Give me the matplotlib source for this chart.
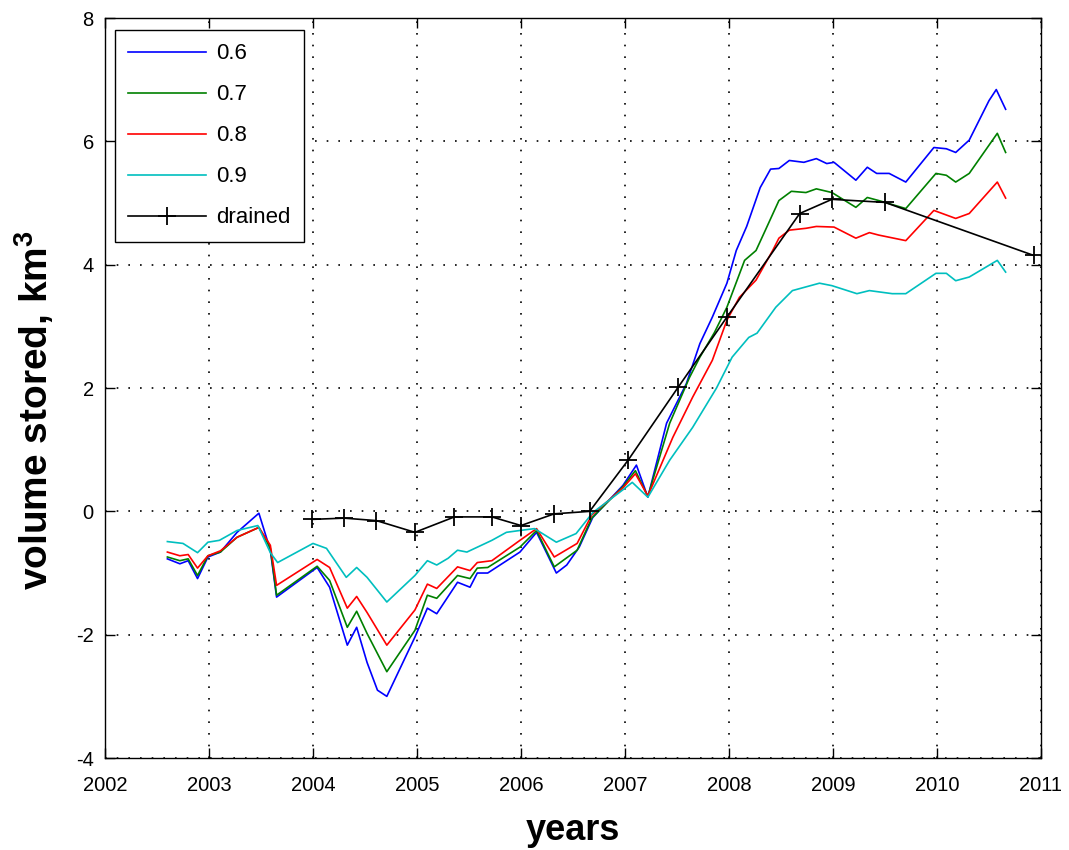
import matplotlib
matplotlib.use("Agg")
import matplotlib.pyplot as plt

plt.rcParams['font.family'] = ['Liberation Sans', 'DejaVu Sans']
plt.rcParams['mathtext.fontset'] = 'custom'
plt.rcParams['mathtext.rm'] = 'Liberation Sans'
plt.rcParams['mathtext.bf'] = 'Liberation Sans:bold'
plt.rcParams['axes.unicode_minus'] = False

# Stored volume (km^3) for several fill fractions, by decimal year
t06 = [2002.60, 2002.72, 2002.80, 2002.89, 2002.99, 2003.11, 2003.27, 2003.48, 2003.59, 2003.65,
       2004.04, 2004.16, 2004.33, 2004.42, 2004.52, 2004.62, 2004.71, 2004.98, 2005.10, 2005.19,
       2005.39, 2005.51, 2005.58, 2005.68, 2005.99, 2006.15, 2006.34, 2006.44, 2006.56, 2006.69,
       2006.98, 2007.11, 2007.22, 2007.40, 2007.59, 2007.72, 2007.84, 2007.98, 2008.07, 2008.17,
       2008.30, 2008.40, 2008.48, 2008.58, 2008.72, 2008.84, 2008.94, 2009.01, 2009.22, 2009.33,
       2009.42, 2009.54, 2009.70, 2009.97, 2010.09, 2010.18, 2010.31, 2010.50, 2010.57, 2010.66]
v06 = [-0.77, -0.85, -0.80, -1.09, -0.74, -0.66, -0.34, -0.03, -0.63, -1.39,
       -0.91, -1.23, -2.17, -1.88, -2.45, -2.90, -3.00, -2.04, -1.57, -1.66,
       -1.15, -1.23, -1.00, -1.00, -0.66, -0.34, -1.00, -0.87, -0.58, -0.10,
       0.42, 0.75, 0.23, 1.43, 2.07, 2.72, 3.15, 3.70, 4.23, 4.62,
       5.25, 5.55, 5.56, 5.69, 5.66, 5.72, 5.64, 5.66, 5.37, 5.58,
       5.48, 5.48, 5.34, 5.90, 5.88, 5.82, 6.02, 6.66, 6.84, 6.52]

t07 = [2002.60, 2002.72, 2002.80, 2002.89, 2002.99, 2003.11, 2003.27, 2003.48, 2003.59, 2003.65,
       2004.04, 2004.16, 2004.33, 2004.42, 2004.52, 2004.71, 2004.98, 2005.10, 2005.19, 2005.39,
       2005.51, 2005.58, 2005.68, 2005.99, 2006.15, 2006.32, 2006.54, 2006.68, 2006.98, 2007.10,
       2007.22, 2007.43, 2007.62, 2007.72, 2007.86, 2007.98, 2008.15, 2008.26, 2008.35, 2008.48,
       2008.60, 2008.74, 2008.84, 2008.99, 2009.22, 2009.33, 2009.44, 2009.70, 2009.99, 2010.09,
       2010.18, 2010.31, 2010.58, 2010.66]
v07 = [-0.74, -0.80, -0.77, -1.04, -0.72, -0.66, -0.42, -0.26, -0.60, -1.36,
       -0.89, -1.12, -1.88, -1.62, -1.98, -2.60, -1.93, -1.36, -1.41, -1.04,
       -1.09, -0.92, -0.91, -0.58, -0.31, -0.90, -0.63, -0.11, 0.40, 0.66,
       0.24, 1.43, 2.17, 2.50, 2.90, 3.31, 4.07, 4.23, 4.56, 5.04,
       5.19, 5.17, 5.23, 5.17, 4.93, 5.09, 5.04, 4.91, 5.48, 5.45,
       5.34, 5.48, 6.13, 5.82]

t08 = [2002.60, 2002.72, 2002.80, 2002.89, 2002.99, 2003.11, 2003.27, 2003.48, 2003.59, 2003.65,
       2004.04, 2004.16, 2004.33, 2004.42, 2004.52, 2004.71, 2004.98, 2005.10, 2005.19, 2005.39,
       2005.51, 2005.58, 2005.72, 2005.99, 2006.15, 2006.32, 2006.54, 2006.68, 2006.98, 2007.10,
       2007.22, 2007.46, 2007.65, 2007.84, 2007.98, 2008.10, 2008.26, 2008.42, 2008.48, 2008.58,
       2008.74, 2008.84, 2009.01, 2009.22, 2009.35, 2009.44, 2009.70, 2009.97, 2010.18, 2010.31,
       2010.58, 2010.66]
v08 = [-0.66, -0.72, -0.70, -0.92, -0.72, -0.64, -0.42, -0.26, -0.55, -1.20,
       -0.78, -0.91, -1.57, -1.38, -1.64, -2.17, -1.60, -1.18, -1.25, -0.90,
       -0.96, -0.83, -0.80, -0.47, -0.28, -0.74, -0.52, -0.06, 0.38, 0.61,
       0.25, 1.20, 1.85, 2.45, 3.10, 3.47, 3.75, 4.23, 4.43, 4.56,
       4.59, 4.62, 4.61, 4.43, 4.52, 4.48, 4.39, 4.88, 4.75, 4.83,
       5.34, 5.08]

t09 = [2002.60, 2002.75, 2002.89, 2002.99, 2003.10, 2003.27, 2003.47, 2003.59, 2003.66, 2004.00,
       2004.13, 2004.32, 2004.42, 2004.52, 2004.71, 2004.98, 2005.10, 2005.19, 2005.30, 2005.39,
       2005.48, 2005.72, 2005.86, 2005.99, 2006.13, 2006.34, 2006.53, 2006.69, 2006.98, 2007.07,
       2007.22, 2007.43, 2007.65, 2007.88, 2008.03, 2008.19, 2008.27, 2008.45, 2008.61, 2008.87,
       2008.99, 2009.23, 2009.35, 2009.57, 2009.70, 2009.99, 2010.09, 2010.18, 2010.31, 2010.58,
       2010.66]
v09 = [-0.49, -0.52, -0.67, -0.50, -0.47, -0.31, -0.23, -0.67, -0.83, -0.52,
       -0.60, -1.07, -0.91, -1.07, -1.47, -1.04, -0.80, -0.87, -0.76, -0.63,
       -0.66, -0.47, -0.34, -0.31, -0.28, -0.50, -0.36, -0.02, 0.35, 0.47,
       0.23, 0.83, 1.36, 2.00, 2.50, 2.82, 2.89, 3.31, 3.58, 3.70,
       3.66, 3.53, 3.58, 3.53, 3.53, 3.86, 3.86, 3.74, 3.80, 4.07,
       3.88]

t_drained = [2003.99, 2004.30, 2004.61, 2004.98, 2005.36, 2005.72, 2006.00, 2006.32,
             2006.66, 2007.03, 2007.51, 2007.98, 2008.68, 2008.99, 2009.50, 2010.93]
v_drained = [-0.13, -0.11, -0.15, -0.34, -0.09, -0.09, -0.23, -0.04,
             0.00, 0.83, 2.01, 3.15, 4.83, 5.06, 5.01, 4.15]

year_ticks = list(range(2002, 2012))
volume_ticks = [-4, -2, 0, 2, 4, 6, 8]

fig = plt.figure(figsize=(10.69, 8.5), dpi=100)
ax = fig.add_axes([0.0982, 0.1082, 0.8756, 0.8706])

ax.plot(t06, v06, color='#0000ff', lw=1.2, label='0.6')
ax.plot(t07, v07, color='#008000', lw=1.2, label='0.7')
ax.plot(t08, v08, color='#ff0000', lw=1.2, label='0.8')
ax.plot(t09, v09, color='#00bfbf', lw=1.2, label='0.9')
ax.plot(t_drained, v_drained, color='black', lw=1.2, marker='+', markersize=13,
        markeredgewidth=1.3, label='drained')

ax.set_xlim(2002, 2011)
ax.set_ylim(-4, 8)
ax.set_xticks(year_ticks)
ax.set_yticks(volume_ticks)
ax.tick_params(direction='in', length=7, width=1, top=True, right=True, labelsize=14.5)
ax.tick_params(axis='x', pad=13)
ax.tick_params(axis='y', pad=8)
for s in ax.spines.values():
    s.set_linewidth(1.0)
    s.set_color('black')
ax.grid(True, color='black', linestyle=(0, (1, 6)), linewidth=1.2)

ax.set_xlabel('years', fontsize=26, fontweight='bold')
ax.set_ylabel(r'volume stored, km$^\mathbf{3}$', fontsize=28, fontweight='bold')
ax.xaxis.set_label_coords(0.5, -0.074)
ax.yaxis.set_label_coords(-0.052, 0.47)

leg = ax.legend(loc='upper left', bbox_to_anchor=(0.0107, 0.9838), borderaxespad=0,
                fancybox=False, edgecolor='black', framealpha=1, fontsize=16,
                handlelength=3.5, handletextpad=0.45, labelspacing=0.9,
                borderpad=0.6, numpoints=1)
leg.get_frame().set_linewidth(1.0)

fig.savefig('out.png', dpi=100)
